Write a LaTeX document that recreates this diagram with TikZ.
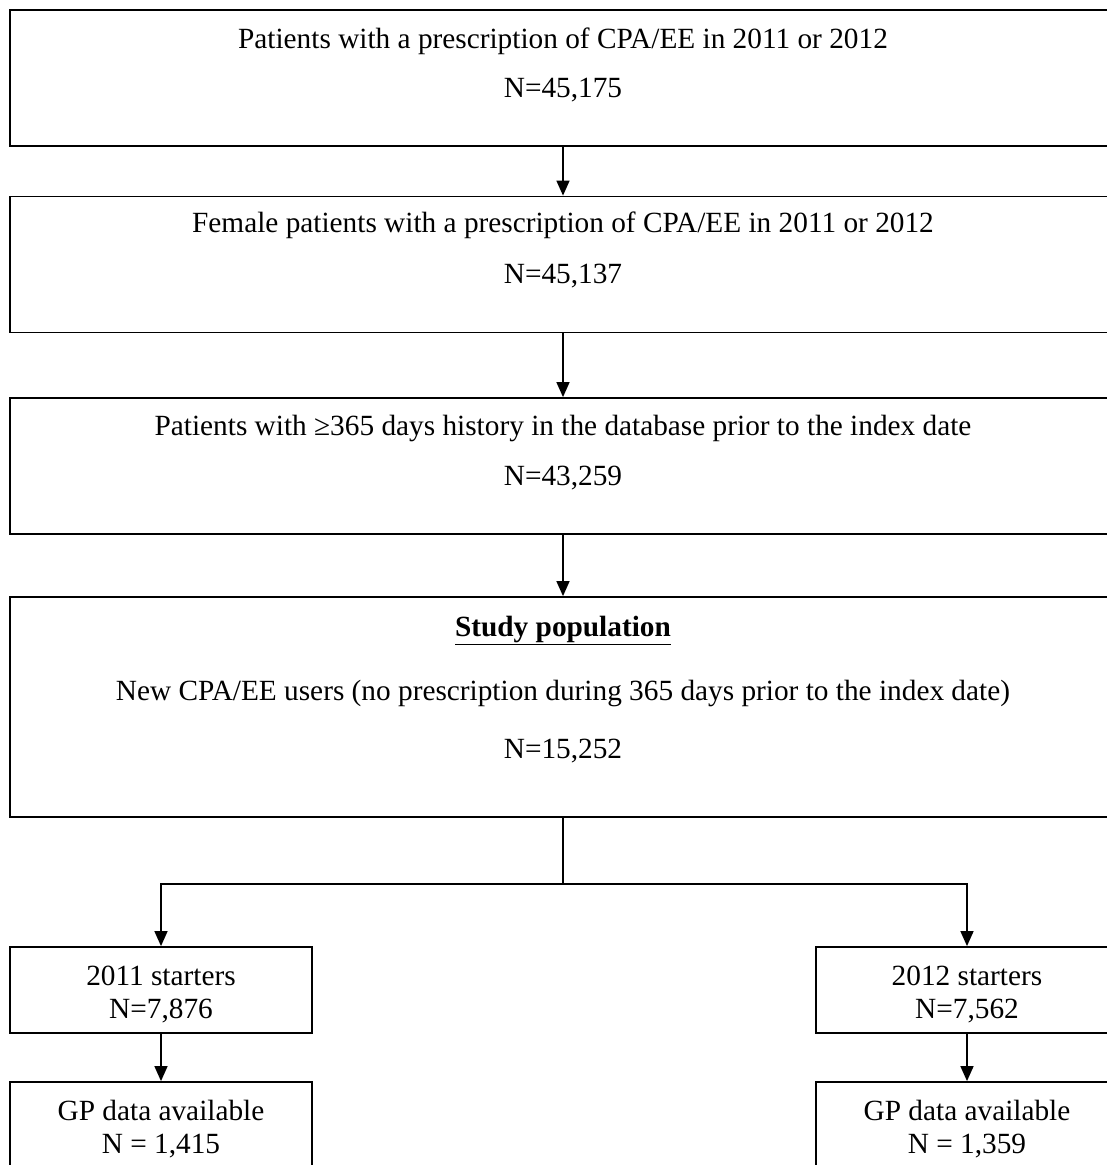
\documentclass[tikz,border=0pt]{standalone}
\usepackage{fontspec}
\setmainfont{Liberation Serif}
\usetikzlibrary{arrows.meta}
\begin{document}
\begin{tikzpicture}[
        x=1pt, y=-1pt,
        font=\fontsize{29.3}{35}\selectfont,
        box/.style={draw, line width=1.8pt, inner sep=0pt},
        bigbox/.style={box, minimum width=1106pt},
        smallbox/.style={box, minimum width=302pt, minimum height=86pt},
        txt/.style={anchor=base, inner sep=0pt},
        arr/.style={line width=1.5pt, -{Triangle[length=15pt,width=13pt]}},
    ]
        \useasboundingbox (0,0) rectangle (1107,1165);
        \clip (0,0) rectangle (1107,1165);

        \node[bigbox, minimum height=136pt] (all) at (563,78) {};
        \node[txt] (all-t) at (563,48) {Patients with a prescription of CPA/EE in 2011 or 2012};
        \node[txt] (all-n) at (563,97) {N=45,175};

        \node[bigbox, minimum height=136pt] (fem) at (563,264.5) {};
        \node[txt] (fem-t) at (563,232) {Female patients with a prescription of CPA/EE in 2011 or 2012};
        \node[txt] (fem-n) at (563,283) {N=45,137};

        \node[bigbox, minimum height=136pt] (hist) at (563,466) {};
        \node[txt] (hist-t) at (563,435) {Patients with ≥365 days history in the database prior to the index date};
        \node[txt] (hist-n) at (563,485) {N=43,259};

        \node[bigbox, minimum height=220pt] (study) at (563,707) {};
        \node[txt] (study-h) at (563,636) {\underline{\textbf{Study population}}};
        \node[txt] (study-t) at (563,700) {New CPA/EE users (no prescription during 365 days prior to the index date)};
        \node[txt] (study-n) at (563,758) {N=15,252};

        \node[smallbox] (s11) at (161,990) {};
        \node[txt] (s11-t) at (161,985) {2011 starters};
        \node[txt] (s11-n) at (161,1018) {N=7,876};

        \node[smallbox] (s12) at (967,990) {};
        \node[txt] (s12-t) at (967,985) {2012 starters};
        \node[txt] (s12-n) at (967,1018) {N=7,562};

        \node[smallbox] (gp11) at (161,1125) {};
        \node[txt] (gp11-t) at (161,1120) {GP data available};
        \node[txt] (gp11-n) at (161,1153) {N = 1,415};

        \node[smallbox] (gp12) at (967,1125) {};
        \node[txt] (gp12-t) at (967,1120) {GP data available};
        \node[txt] (gp12-n) at (967,1153) {N = 1,359};

        \draw[arr] (all) -- (fem);
        \draw[arr] (fem) -- (hist);
        \draw[arr] (hist) -- (study);
        \draw[line width=1.5pt] (study.south) -- ++(0,66) coordinate (split);
        \draw[arr] (split) -| (s11);
        \draw[arr] (split) -| (s12);
        \draw[arr] (s11) -- (gp11);
        \draw[arr] (s12) -- (gp12);
    \end{tikzpicture}
\end{document}
